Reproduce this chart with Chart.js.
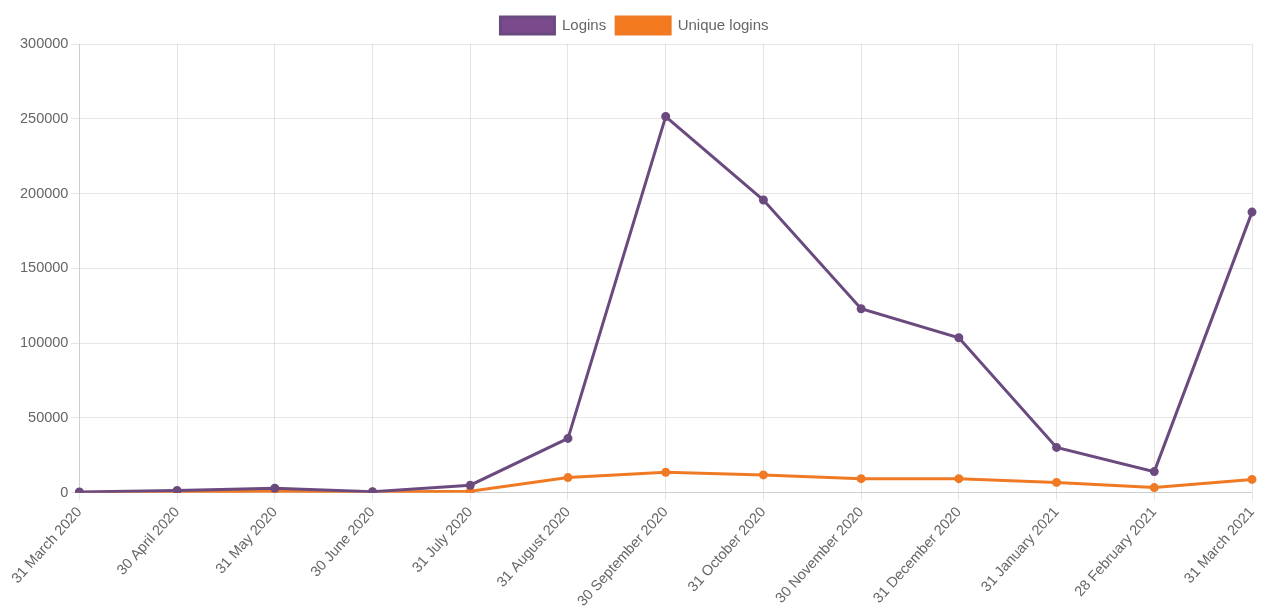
<!DOCTYPE html>
<html>
<head>
<meta charset="utf-8">
<script src="https://cdn.jsdelivr.net/npm/chart.js@4/dist/chart.umd.min.js"></script>
<style>
  html, body { margin: 0; padding: 0; background: #fff; }
  #wrap { width: 1286px; height: 610px; }
</style>
</head>
<body>
<div id="wrap"><canvas id="chart"></canvas></div>
<script>
// 月份标签
const labels = [
    '31 March 2020', '30 April 2020', '31 May 2020', '30 June 2020',
    '31 July 2020', '31 August 2020', '30 September 2020', '31 October 2020',
    '30 November 2020', '31 December 2020', '31 January 2021',
    '28 February 2021', '31 March 2021'
];

// 登录次数
const logins = [500, 1500, 3000, 700, 5000, 36300, 251500, 195700, 123000, 103600, 30300, 14100, 187600];

// 唯一登录
const uniqueLogins = [200, 500, 1000, 500, 1000, 10100, 13600, 11900, 9400, 9400, 6900, 3400, 8900];

const yTicks = [0, 50000, 100000, 150000, 200000, 250000, 300000];

Chart.defaults.font.family = 'Liberation Sans, Arial, sans-serif';
Chart.defaults.font.size = 14.5;
Chart.defaults.color = '#666';

const ctx = document.getElementById('chart').getContext('2d');
new Chart(ctx, {
    type: 'line',
    data: {
        labels: labels,
        datasets: [{
            label: 'Logins',
            data: logins,
            borderColor: '#6b4a7f',
            backgroundColor: '#7b4a8c',
            pointBackgroundColor: '#6b4a7f',
            borderWidth: 3,
            pointRadius: 3,
            fill: false,
            tension: 0
        }, {
            label: 'Unique logins',
            data: uniqueLogins,
            borderColor: '#f07a24',
            backgroundColor: '#f47a20',
            pointBackgroundColor: '#f07a24',
            borderWidth: 3,
            pointRadius: 3,
            fill: false,
            tension: 0
        }]
    },
    options: {
        responsive: true,
        maintainAspectRatio: false,
        animation: false,
        layout: { padding: { left: 17, right: 34, top: 7, bottom: -3 } },
        scales: {
            y: {
                min: 0,
                max: 300000,
                afterBuildTicks: axis => { axis.ticks = yTicks.map(v => ({ value: v })); },
                ticks: { callback: v => String(v) },
                border: { display: true }
            },
            x: {
                ticks: { minRotation: 48, maxRotation: 48, autoSkip: false }
            }
        },
        plugins: {
            legend: {
                position: 'top',
                labels: { boxWidth: 54, boxHeight: 17, padding: 10, font: { size: 15 } }
            },
            tooltip: { enabled: false }
        }
    }
});
</script>
</body>
</html>
